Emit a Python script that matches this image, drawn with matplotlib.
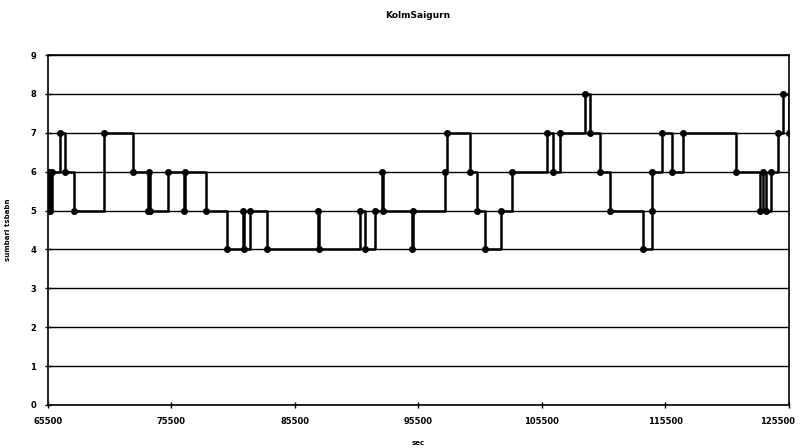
import numpy as np
import matplotlib
matplotlib.use("Agg")
import matplotlib.pyplot as plt
import matplotlib.transforms as mtransforms

# change points of the step series (sec, value)
t = [65500, 65600, 65700, 65800, 66470, 66880, 67600, 70030, 72380, 73600,
     73700, 73800, 75220, 76510, 76600, 78270, 79970, 81310, 81400, 81860,
     83210, 87340, 87420, 90760, 91170, 91980, 92520, 92600, 94950, 95030,
     97650, 97800, 99670, 100210, 100880, 102180, 103050, 105880, 106390,
     106960, 108980, 109390, 110200, 111010, 113700, 114380, 114460, 115190,
     116000, 116940, 121260, 123150, 123450, 123690, 124090, 124630, 125040,
     125500]
v = [5, 6, 5, 6, 7, 6, 5, 7, 6, 5,
     6, 5, 6, 5, 6, 5, 4, 5, 4, 5,
     4, 5, 4, 5, 4, 5, 6, 5, 4, 5,
     6, 7, 6, 5, 4, 5, 6, 7, 6,
     7, 8, 7, 6, 5, 4, 5, 6, 7,
     6, 7, 6, 5, 6, 5, 6, 7, 8, 7]
n = min(len(t), len(v))
t = t[:n]
v = v[:n]

xticks = [65500, 75500, 85500, 95500, 105500, 115500, 125500]
yticks = list(range(0, 10))

plt.rcParams['font.family'] = ['DejaVu Sans']
fig = plt.figure(figsize=(8, 4.48), dpi=100)
ax = fig.add_axes([0.06, 0.096, 0.926, 0.781])

ax.plot(t, v, drawstyle='steps-post', color='black', lw=1.8,
        marker='o', markersize=4, zorder=3)

ax.set_xlim(65500, 125500)
ax.set_ylim(0, 9)
ax.set_xticks(xticks)
ax.set_yticks(yticks)
ax.set_xticklabels([str(x) for x in xticks], fontsize=6, fontweight='bold')
ax.set_yticklabels([str(y) for y in yticks], fontsize=6, fontweight='bold')
ax.tick_params(direction='inout', length=5, width=1, pad=6)
ax.yaxis.grid(True, color='black', lw=1)
for s in ax.spines.values():
    s.set_linewidth(1.2)
    s.set_color('black')

# keep the last x label inside the figure
last = ax.get_xticklabels()[-1]
last.set_transform(last.get_transform() +
                   mtransforms.ScaledTranslation(-8 / 72, 0, fig.dpi_scale_trans))

ax.set_xlabel("sec", fontsize=5, fontweight='bold', labelpad=10)
ax.set_ylabel("sumbari tsbabn", fontsize=5, fontweight='bold', labelpad=14)
fig.text(0.522, 0.965, "KolmSaigurn", ha='center', va='center',
         fontsize=6.5, fontweight='bold')

plt.savefig("out.png", dpi=100)
